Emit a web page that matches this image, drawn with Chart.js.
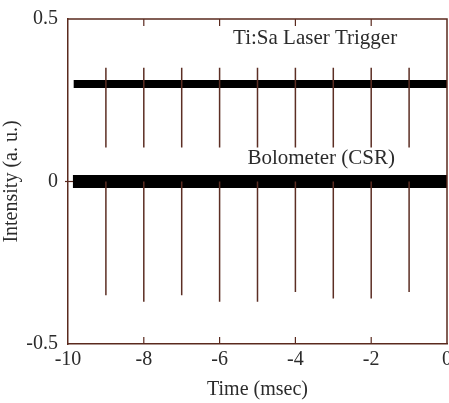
<!DOCTYPE html>
<html lang="en">
<head>
  <meta charset="UTF-8">
  <title>Ti:Sa Laser Trigger and Bolometer (CSR)</title>
  <script src="https://cdn.jsdelivr.net/npm/chart.js"></script>
  <style>
    html, body { margin: 0; padding: 0; background: #fff; }
    #wrap { width: 449px; height: 403px; }
  </style>
</head>
<body>
  <div id="wrap"><canvas id="plot" width="449" height="403"></canvas></div>

  <script>
    // Time axis (msec) and trace levels
    const xTicks = [-10, -8, -6, -4, -2, 0];
    const yTicks = [-0.5, 0, 0.5];

    // Trigger trace: flat band at ~0.3 with a pulse every 1 ms
    const triggerStart = -9.85;
    const triggerEnd = 0;
    const triggerLevel = 0.3;
    const triggerTimes = [-9, -8, -7, -6, -5, -4, -3, -2, -1];
    const triggerTop = [0.35, 0.35, 0.35, 0.35, 0.35, 0.35, 0.35, 0.35, 0.35];
    const triggerBottom = [0.105, 0.105, 0.105, 0.105, 0.105, 0.105, 0.105, 0.105, 0.105];

    // Bolometer trace: noisy band around 0, negative spikes at each trigger
    const boloStart = -9.87;
    const boloEnd = 0;
    const boloLevel = 0;
    const boloTimes = [-9, -8, -7, -6, -5, -4, -3, -2, -1];
    const boloTop = [0, 0, 0, 0, 0, 0, 0, 0, 0];
    const boloBottom = [-0.35, -0.37, -0.35, -0.37, -0.37, -0.34, -0.36, -0.36, -0.34];

    const labels = [
      { text: 'Ti:Sa Laser Trigger', x: -3.48, y: 0.44 },
      { text: 'Bolometer (CSR)', x: -3.32, y: 0.072 }
    ];

    const serif = "'Liberation Serif', 'DejaVu Serif', serif";
    const frameColor = '#5a2a1e';
    const spikeColor = '#5c2e24';
    const textColor = '#2b2b2b';

    function spikeData(times, tops, bottoms) {
      const pts = [];
      times.forEach((t, i) => {
        pts.push({ x: t, y: tops[i] });
        pts.push({ x: t, y: bottoms[i] });
        pts.push({ x: t, y: null });
      });
      return pts;
    }

    // frame on top/right, inward ticks and the two trace labels
    const framePlugin = {
      id: 'frame',
      afterDraw(chart) {
        const { ctx, chartArea: a, scales } = chart;
        ctx.save();
        ctx.strokeStyle = frameColor;
        ctx.lineWidth = 1.5;
        ctx.beginPath();
        ctx.moveTo(a.left, a.top);
        ctx.lineTo(a.right, a.top);
        ctx.lineTo(a.right, a.bottom);
        ctx.stroke();

        ctx.lineWidth = 1.2;
        xTicks.forEach(v => {
          if (v === -10 || v === 0) return;
          const px = scales.x.getPixelForValue(v);
          ctx.beginPath();
          ctx.moveTo(px, a.bottom);
          ctx.lineTo(px, a.bottom - 7);
          ctx.moveTo(px, a.top);
          ctx.lineTo(px, a.top + 7);
          ctx.stroke();
        });
        const y0 = scales.y.getPixelForValue(0);
        ctx.beginPath();
        ctx.moveTo(a.left - 3, y0);
        ctx.lineTo(a.left + 5, y0);
        ctx.stroke();

        ctx.fillStyle = textColor;
        ctx.font = '21px ' + serif;
        ctx.textAlign = 'center';
        ctx.textBaseline = 'middle';
        labels.forEach(l => {
          ctx.fillText(l.text, scales.x.getPixelForValue(l.x), scales.y.getPixelForValue(l.y));
        });
        ctx.restore();
      }
    };

    const ctx = document.getElementById('plot').getContext('2d');
    const chart = new Chart(ctx, {
      type: 'line',
      data: {
        datasets: [
          {
            label: 'Trigger pulses',
            data: spikeData(triggerTimes, triggerTop, triggerBottom),
            borderColor: spikeColor,
            borderWidth: 1.5,
            pointRadius: 0
          },
          {
            label: 'Bolometer pulses',
            data: spikeData(boloTimes, boloTop, boloBottom),
            borderColor: spikeColor,
            borderWidth: 1.5,
            pointRadius: 0
          },
          {
            label: 'Ti:Sa Laser Trigger',
            data: [{ x: triggerStart, y: triggerLevel }, { x: triggerEnd, y: triggerLevel }],
            borderColor: '#000',
            borderWidth: 8,
            borderCapStyle: 'butt',
            pointRadius: 0
          },
          {
            label: 'Bolometer (CSR)',
            data: [{ x: boloStart, y: boloLevel }, { x: boloEnd, y: boloLevel }],
            borderColor: '#000',
            borderWidth: 13,
            borderCapStyle: 'butt',
            pointRadius: 0
          }
        ]
      },
      options: {
        responsive: false,
        animation: false,
        layout: { padding: { left: 0, top: 19, right: 2, bottom: 0 } },
        plugins: { legend: { display: false }, tooltip: { enabled: false } },
        scales: {
          x: {
            type: 'linear',
            min: -10,
            max: 0,
            afterFit(s) { s.height = 59; s.paddingLeft = 0; s.paddingRight = 0; },
            afterBuildTicks(s) { s.ticks = xTicks.map(v => ({ value: v })); },
            grid: { display: false, drawTicks: false },
            border: { display: true, color: frameColor, width: 1.5 },
            ticks: {
              color: textColor,
              padding: 4,
              maxRotation: 0,
              font: { family: serif, size: 20 },
              callback: v => String(v)
            },
            title: {
              display: true,
              text: 'Time (msec)',
              color: textColor,
              font: { family: serif, size: 20 },
              padding: { top: 0, bottom: 1 }
            }
          },
          y: {
            min: -0.5,
            max: 0.5,
            afterFit(s) { s.width = 68; s.paddingTop = 0; s.paddingBottom = 0; },
            afterBuildTicks(s) { s.ticks = yTicks.map(v => ({ value: v })); },
            grid: { display: false, drawTicks: false },
            border: { display: true, color: frameColor, width: 1.5 },
            ticks: {
              color: textColor,
              padding: 10,
              font: { family: serif, size: 20 },
              callback: v => String(v)
            },
            title: {
              display: true,
              text: 'Intensity (a. u.)',
              color: textColor,
              font: { family: serif, size: 20 },
              padding: 0
            }
          }
        }
      },
      plugins: [framePlugin]
    });
  </script>
</body>
</html>
